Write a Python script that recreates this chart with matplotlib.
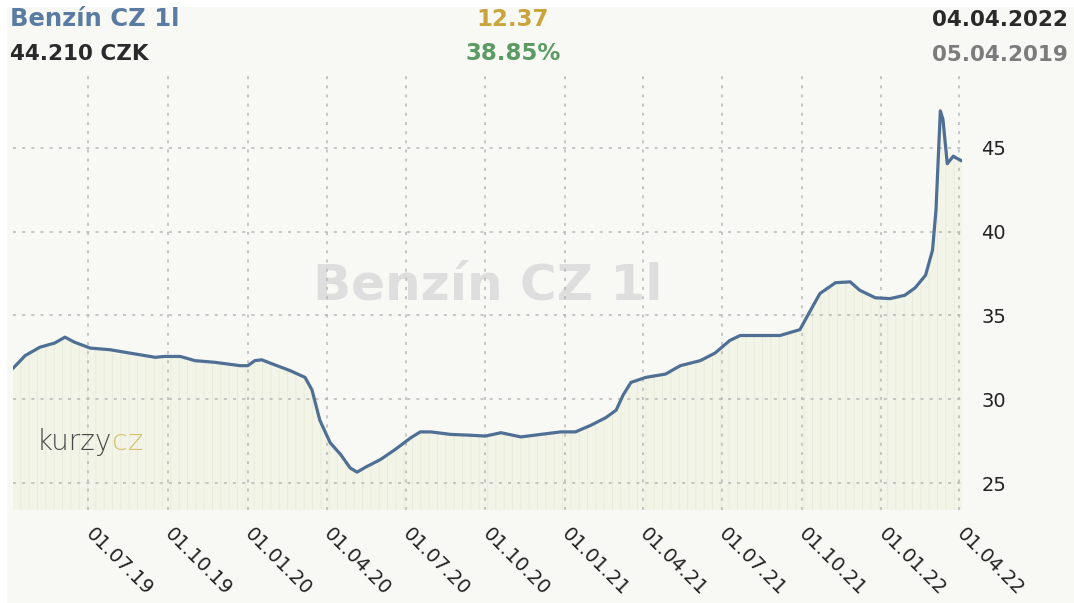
import pandas as pd
import matplotlib.pyplot as plt
from matplotlib.patches import Rectangle

# data
dates = ["2019-04-05", "2019-04-19", "2019-05-06", "2019-05-23", "2019-06-04", "2019-06-15",
         "2019-07-03", "2019-07-26", "2019-08-18", "2019-09-16", "2019-09-27", "2019-10-15",
         "2019-11-01", "2019-11-24", "2019-12-23", "2020-01-01", "2020-01-09", "2020-01-17",
         "2020-02-01", "2020-02-19", "2020-03-07", "2020-03-15", "2020-03-24", "2020-04-05",
         "2020-04-17", "2020-04-28", "2020-05-06", "2020-05-16", "2020-06-02", "2020-06-19",
         "2020-07-07", "2020-07-18", "2020-07-30", "2020-08-22", "2020-09-14", "2020-10-01",
         "2020-10-19", "2020-11-11", "2020-12-04", "2020-12-27", "2021-01-13", "2021-01-31",
         "2021-02-17", "2021-03-01", "2021-03-09", "2021-03-18", "2021-04-04", "2021-04-27",
         "2021-05-14", "2021-06-06", "2021-06-23", "2021-07-10", "2021-07-22", "2021-08-14",
         "2021-09-06", "2021-09-29", "2021-10-08", "2021-10-22", "2021-11-09", "2021-11-26",
         "2021-12-07", "2021-12-25", "2022-01-11", "2022-01-28", "2022-02-09", "2022-02-21",
         "2022-03-01", "2022-03-05", "2022-03-10", "2022-03-13", "2022-03-18", "2022-03-25",
         "2022-03-28", "2022-04-04"]
prices = [31.84, 32.6, 33.1, 33.35, 33.7, 33.4,
          33.05, 32.95, 32.75, 32.5, 32.55, 32.55,
          32.3, 32.2, 32.0, 32.0, 32.3, 32.35,
          32.05, 31.7, 31.3, 30.55, 28.75, 27.4,
          26.7, 25.9, 25.65, 25.95, 26.4, 27.0,
          27.7, 28.05, 28.05, 27.9, 27.85, 27.8,
          28.0, 27.75, 27.9, 28.05, 28.05, 28.45,
          28.9, 29.35, 30.25, 31.0, 31.3, 31.5,
          32.0, 32.3, 32.75, 33.5, 33.8, 33.8,
          33.8, 34.15, 35.0, 36.3, 36.95, 37.0,
          36.5, 36.05, 36.0, 36.2, 36.65, 37.4,
          38.9, 41.3, 47.2, 46.7, 44.05, 44.5,
          44.4, 44.21]
tick_dates = ["2019-07-01", "2019-10-01", "2020-01-01", "2020-04-01", "2020-07-01", "2020-10-01",
              "2021-01-01", "2021-04-01", "2021-07-01", "2021-10-01", "2022-01-01", "2022-04-01"]
tick_labels = ["01.07.19", "01.10.19", "01.01.20", "01.04.20", "01.07.20", "01.10.20",
               "01.01.21", "01.04.21", "01.07.21", "01.10.21", "01.01.22", "01.04.22"]
y_ticks = [25, 30, 35, 40, 45]

x = pd.to_datetime(dates)
bg = '#f8f9f4'
plt.rcParams['hatch.linewidth'] = 0.7

fig = plt.figure(figsize=(10.74, 6.03), dpi=100, facecolor='white')
fig.patches.append(Rectangle((7 / 1074, 0), 1, 1 - 7 / 603, transform=fig.transFigure,
                             facecolor=bg, edgecolor='none', zorder=-10))
ax = fig.add_axes([13 / 1074, 1 - 510 / 603, (962 - 13) / 1074, (510 - 74) / 603])
ax.set_facecolor(bg)

# pale fill with faint vertical stripes under the line
ax.fill_between(x, prices, 23.0, facecolor='#f2f4e7', edgecolor='#e9ecda',
                hatch='||', lw=0, zorder=1)
ax.plot(x, prices, color='#4f6f94', lw=2.3, zorder=3, solid_capstyle='round')

ax.set_xlim(x[0], x[-1])
ax.set_ylim(23.39, 49.4)

ax.set_xticks(pd.to_datetime(tick_dates))
ax.set_xticklabels(tick_labels, rotation=-45, ha='left', va='center',
                   rotation_mode='anchor', fontsize=14, color='#222222')
ax.tick_params(axis='x', length=0, pad=15)
ax.yaxis.tick_right()
ax.set_yticks(y_ticks)
ax.set_yticklabels([str(v) for v in y_ticks], fontsize=14, color='#222222')
ax.tick_params(axis='y', length=0, pad=14)
for s in ax.spines.values():
    s.set_visible(False)
ax.grid(True, color='#b8b8b8', lw=1.1, linestyle=(0, (2, 4)), zorder=2)
ax.set_axisbelow(False)

# watermark and logo
ax.text(0.5, 0.515, 'Benzín CZ 1l', transform=ax.transAxes, ha='center', va='center',
        fontsize=36, fontweight='bold', color='#dedede', zorder=0.5)
ax.text(24 / 949, 0.155, 'kurzy', transform=ax.transAxes, ha='left', va='center',
        fontsize=20, fontweight='light', color='#4a4a4a', zorder=4)
ax.text(99 / 949, 0.155, 'cz', transform=ax.transAxes, ha='left', va='center',
        fontsize=21, fontweight='light', color='#d8c070', zorder=4)

# header
fig.text(10 / 1074, 1 - 19 / 603, 'Benzín CZ 1l', ha='left', va='center',
         fontsize=17.5, fontweight='bold', color='#5a7ca2')
fig.text(10 / 1074, 1 - 54 / 603, '44.210 CZK', ha='left', va='center',
         fontsize=15.5, fontweight='bold', color='#2a2a2a')
fig.text(513 / 1074, 1 - 19 / 603, '12.37', ha='center', va='center',
         fontsize=16.5, fontweight='bold', color='#c9a43c')
fig.text(513 / 1074, 1 - 53 / 603, '38.85%', ha='center', va='center',
         fontsize=16.5, fontweight='bold', color='#5c9a64')
fig.text(1068 / 1074, 1 - 20 / 603, '04.04.2022', ha='right', va='center',
         fontsize=15.5, fontweight='bold', color='#2a2a2a')
fig.text(1068 / 1074, 1 - 55 / 603, '05.04.2019', ha='right', va='center',
         fontsize=15.5, fontweight='bold', color='#7c7c7c')

plt.savefig('out.png', dpi=100, facecolor=fig.get_facecolor())
